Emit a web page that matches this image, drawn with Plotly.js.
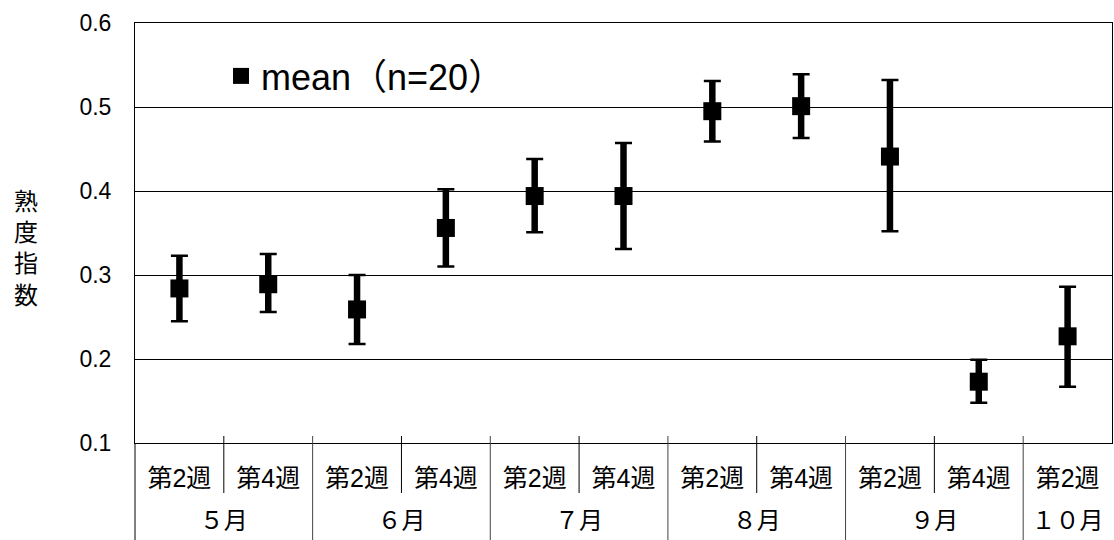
<!DOCTYPE html>
<html>
<head>
<meta charset="utf-8">
<script src="https://cdn.plot.ly/plotly-3.0.1.min.js"></script>
<style>html,body{margin:0;padding:0;background:#fff;}#chart{width:1114px;height:540px;}</style>
</head>
<body>
<div id="chart"></div>
<script>
// Data
const months = ["５月","５月","６月","６月","７月","７月","８月","８月","９月","９月","１０月"];
const weeks = ["第2週","第4週","第2週","第4週","第2週","第4週","第2週","第4週","第2週","第4週","第2週"];
const meanVals  = [0.284, 0.289, 0.259, 0.356, 0.394, 0.394, 0.495, 0.501, 0.441, 0.173, 0.227];
const upperVals = [0.323, 0.325, 0.300, 0.402, 0.438, 0.457, 0.531, 0.539, 0.532, 0.199, 0.286];
const lowerVals = [0.245, 0.256, 0.218, 0.310, 0.351, 0.331, 0.459, 0.463, 0.352, 0.148, 0.167];
const seriesName = "mean（n=20）";
const yTitle = "熟<br>度<br>指<br>数";
const yTicks = [0.1, 0.2, 0.3, 0.4, 0.5, 0.6];

// unique category keys (month + week), labelled by week
const catKeys = months.map((m, i) => m + " " + weeks[i]);
const errPlus = upperVals.map((u, i) => u - meanVals[i]);
const errMinus = lowerVals.map((l, i) => meanVals[i] - l);

// month groups -> centre index for the second label row
const monthNames = [], monthCentres = [], monthBounds = [];
months.forEach((m, i) => {
  if (i === 0 || m !== months[i - 1]) { monthNames.push(m); monthBounds.push([i, i]); }
  else { monthBounds[monthBounds.length - 1][1] = i; }
});
monthBounds.forEach(b => monthCentres.push((b[0] + b[1]) / 2));

const FONT = "Liberation Sans, Arial, 'Noto Sans CJK JP', sans-serif";
const nCat = weeks.length;

const capTrace = {
  type: "scatter", mode: "markers",
  x: catKeys, y: meanVals,
  marker: {size: 1, color: "rgba(0,0,0,0)"},
  error_y: {type: "data", symmetric: false, array: errPlus, arrayminus: errMinus,
            color: "#000", thickness: 2.5, width: 8.5},
  showlegend: false, hoverinfo: "skip"
};
const meanTrace = {
  type: "scatter", mode: "markers", name: seriesName,
  x: catKeys, y: meanVals,
  marker: {symbol: "square", size: 18, color: "#000"},
  error_y: {type: "data", symmetric: false, array: errPlus, arrayminus: errMinus,
            color: "#000", thickness: 6.5, width: 0}
};
// carrier for the month label row (second category level), draws nothing
const monthRow = {
  type: "scatter", mode: "markers", xaxis: "x2", yaxis: "y",
  x: monthCentres, y: monthCentres.map(() => null),
  showlegend: false, hoverinfo: "skip"
};

const shapes = [];
// white legend box hiding the gridline behind the legend
shapes.push({type: "rect", layer: "between", xref: "paper", yref: "y domain",
  x0: (155 - 135) / 977, x1: (563 - 135) / 977, y0: (443 - 115) / 420, y1: (443 - 40) / 420,
  fillcolor: "#fff", line: {width: 0}});
// table-like divider lines under the axis
for (let k = 1; k < nCat; k++) {
  const isMonth = months[k] !== months[k - 1];
  shapes.push({type: "line", xref: "paper", yref: "y domain",
    x0: k / nCat, x1: k / nCat, y0: 7 / 420, y1: isMonth ? -97 / 420 : -50 / 420,
    line: {color: isMonth ? "#444" : "#000", width: 1}});
}
shapes.push({type: "line", xref: "paper", yref: "y domain", x0: 0, x1: 0, y0: 0, y1: -97 / 420,
  line: {color: "#000", width: 1}});

const layout = {
  width: 1114, height: 540,
  margin: {l: 135, r: 2, t: 23, b: 36},
  paper_bgcolor: "#fff", plot_bgcolor: "#fff",
  font: {family: FONT, color: "#000", size: 23},
  showlegend: true,
  legend: {orientation: "h", x: (155 - 135) / 977, xanchor: "left",
           y: (504 - 76) / 481, yanchor: "middle",
           bgcolor: "rgba(0,0,0,0)", font: {size: 36, family: FONT}, indentation: 66,
           itemsizing: "trace"},
  xaxis: {type: "category", range: [-0.5, nCat - 0.5], tickmode: "array",
          tickvals: catKeys, ticktext: weeks,
          showline: true, linecolor: "#000", linewidth: 1, mirror: true,
          showgrid: false, ticks: "", ticklabelstandoff: 13,
          tickfont: {size: 25, family: FONT}},
  xaxis2: {type: "linear", overlaying: "x", anchor: "free", position: 0, side: "bottom",
           range: [-0.5, nCat - 0.5], tickmode: "array", tickvals: monthCentres, ticktext: monthNames,
           showline: false, showgrid: false, zeroline: false, ticks: "",
           tickfont: {size: 24, family: FONT}},
  yaxis: {domain: [(504 - 443) / 481, 1], range: [0.1, 0.6], tickmode: "array", tickvals: yTicks,
          tickformat: ".1f",
          showline: true, linecolor: "#000", linewidth: 1, mirror: true,
          showgrid: true, gridcolor: "#000", gridwidth: 1, ticks: "", zeroline: false,
          ticklabelstandoff: 18, tickfont: {size: 23, family: FONT}},
  shapes: shapes,
  annotations: [{text: yTitle, xref: "paper", yref: "y domain", x: (26 - 135) / 977, y: (443 - 248) / 420,
                 xanchor: "center", yanchor: "middle",
                 showarrow: false, font: {size: 24, family: FONT}, align: "center"}]
};

Plotly.newPlot("chart", [monthRow, capTrace, meanTrace], layout, {displayModeBar: false, staticPlot: true});
</script>
</body>
</html>
